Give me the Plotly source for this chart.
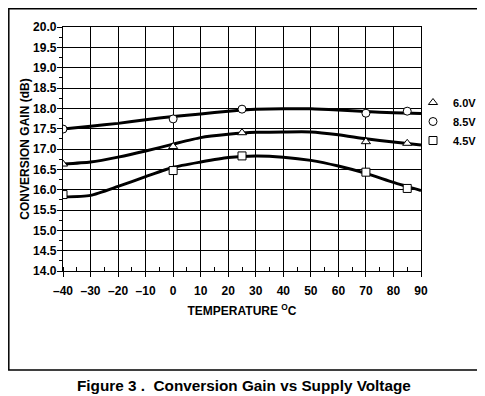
import plotly.graph_objects as go

# Smooth fitted curves (temperature in °C, gain in dB)
curve_t = [-40, -30, -20, -10, 0, 10, 20, 30, 40, 50, 60, 70, 80, 90]
curve_85 = [17.49, 17.56, 17.63, 17.72, 17.80, 17.86, 17.93, 17.98, 17.99, 17.99, 17.96, 17.92, 17.89, 17.87]
curve_60 = [16.63, 16.68, 16.80, 16.95, 17.12, 17.28, 17.36, 17.41, 17.42, 17.42, 17.35, 17.25, 17.17, 17.10]
curve_45 = [15.82, 15.86, 16.08, 16.32, 16.55, 16.68, 16.79, 16.83, 16.80, 16.72, 16.58, 16.40, 16.18, 15.98]

# Measured points
meas_t = [-40, 0, 25, 70, 85]
meas_60 = [16.63, 17.06, 17.40, 17.18, 17.14]
meas_85 = [17.49, 17.74, 17.98, 17.88, 17.93]
meas_45 = [15.88, 16.47, 16.83, 16.43, 16.03]

x_ticks = [-40, -30, -20, -10, 0, 10, 20, 30, 40, 50, 60, 70, 80, 90]
x_ticktext = ["\u201340", "\u201330", "\u201320", "\u201310", "0", "10", "20", "30", "40", "50", "60", "70", "80", "90"]

FONT = "Liberation Sans, Arial, Helvetica, sans-serif"

# figure geometry (page body has an 8px margin)
W, H = 477, 388
L, T, PW, PH = 55, 19, 358, 244
R, B = W - L - PW, H - T - PH
PB = T + PH  # plot bottom, figure px


def px(fx):
    return (fx - L) / PW


def py(fy):
    return (PB - fy) / PH


fig = go.Figure()

for ys in (curve_85, curve_60, curve_45):
    fig.add_trace(go.Scatter(x=curve_t, y=ys, mode="lines", showlegend=False,
                             line=dict(color="black", width=3, shape="spline", smoothing=0.6),
                             hoverinfo="skip"))

series = [("6.0V", meas_60, "triangle-up"), ("8.5V", meas_85, "circle"), ("4.5V", meas_45, "square")]
for name, ys, sym in series:
    fig.add_trace(go.Scatter(x=meas_t, y=ys, mode="markers", name=name,
                             marker=dict(symbol=sym, size=8, color="white",
                                         line=dict(color="black", width=1))))

fig.update_xaxes(range=[-40, 90], tickvals=x_ticks, ticktext=x_ticktext, automargin=False,
                 showgrid=True, gridcolor="black", gridwidth=1.3,
                 showline=True, linecolor="black", linewidth=1.3, mirror=True,
                 ticks="outside", ticklen=5, tickwidth=1.3, tickcolor="black",
                 ticklabelstandoff=3,
                 minor=dict(dtick=5, tick0=-40, ticks="inside", ticklen=4, tickwidth=1.3,
                            tickcolor="black", showgrid=False),
                 tickfont=dict(family=FONT, size=12, color="black", weight="bold"),
                 title=dict(text="TEMPERATURE <sup>O</sup>C", standoff=10,
                            font=dict(family=FONT, size=12, color="black", weight="bold")),
                 zeroline=False)
fig.update_yaxes(range=[14, 20], dtick=0.5, tickformat=".1f", automargin=False,
                 showgrid=True, gridcolor="black", gridwidth=1.3,
                 showline=True, linecolor="black", linewidth=1.3, mirror=True,
                 ticks="outside", ticklen=5, tickwidth=1.3, tickcolor="black",
                 ticklabelstandoff=-2,
                 minor=dict(dtick=0.25, ticks="outside", ticklen=3, tickwidth=1.3,
                            tickcolor="black", showgrid=False),
                 tickfont=dict(family=FONT, size=12, color="black", weight="bold"),
                 title=dict(text="CONVERSION GAIN (dB)", standoff=0,
                            font=dict(family=FONT, size=12, color="black", weight="bold")),
                 zeroline=False)

# Outer frame
fig.add_shape(type="rect", xref="paper", yref="paper",
              x0=px(0.8), x1=px(474), y0=py(362), y1=py(0.8),
              line=dict(color="black", width=1.5), fillcolor="rgba(0,0,0,0)", layer="below")

fig.add_annotation(text="Figure 3 .  Conversion Gain vs Supply Voltage",
                   xref="paper", yref="paper", x=px(236), y=py(377),
                   xanchor="center", yanchor="middle", showarrow=False,
                   font=dict(family=FONT, size=15.3, color="black", weight="bold"))

fig.update_layout(width=W, height=H,
                  margin=dict(l=L, r=R, t=T, b=B, autoexpand=False),
                  paper_bgcolor="white", plot_bgcolor="white",
                  showlegend=True,
                  legend=dict(xref="container", yref="container",
                              x=405 / W, y=1 - 80 / H, xanchor="left", yanchor="top",
                              bgcolor="rgba(0,0,0,0)", borderwidth=0,
                              font=dict(family=FONT, size=11, color="black", weight="bold"),
                              itemwidth=30, tracegroupgap=0))

fig.write_html("out.html")
